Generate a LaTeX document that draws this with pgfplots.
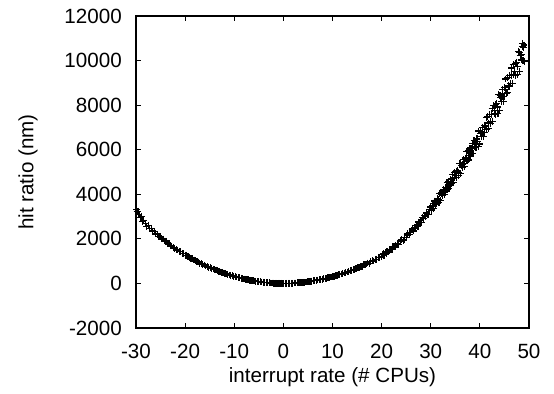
\documentclass[border=0pt]{standalone}
\usepackage{fontspec}
\setmainfont{Liberation Sans}
\usepackage{pgfplots}
\pgfplotsset{compat=1.18}
\begin{document}
\fontsize{10.3}{12.4}\selectfont
\begin{tikzpicture}
\begin{axis}[
  scale only axis, width=196.5pt, height=156pt,
  at={(0,0)}, anchor=south west,
  xmin=-30, xmax=50, ymin=-2000, ymax=12000,
  xtick={-30,-20,...,50}, ytick={-2000,0,...,12000},
  scaled ticks=false,
  /pgf/number format/assume math mode=true,
  /pgf/number format/1000 sep={},
  tick align=inside, major tick length=2.5pt,
  axis line style={line width=0.6pt}, every tick/.style={line width=0.5pt, black},
  yticklabel style={xshift=-3.5pt},
  xticklabel style={yshift=-4.5pt},
  xlabel={interrupt rate (\# CPUs)},
  ylabel={hit ratio (nm)},
  xlabel style={at={([yshift=-24.5pt]axis description cs:0.5,0)}, anchor=center},
  ylabel style={at={([xshift=-54pt]axis description cs:0,0.5)}, anchor=center},
]
\addplot[only marks, mark=+, mark size=1.7pt, mark options={line width=0.6pt}, black] table {
x y
-29.9 3330
-29.8 3210
-29.6 3240
-29.4 3080
-29.1 2950
-28.9 3010
-28.7 2780
-28.4 2830
-28.1 2700
-27.8 2560
-27.5 2610
-27.2 2450
-26.9 2470
-26.6 2350
-26.3 2330
-26.0 2220
-25.7 2200
-25.4 2100
-25.1 2090
-24.8 2010
-24.5 1990
-24.2 1900
-23.9 1890
-23.6 1800
-23.3 1780
-23.0 1690
-22.7 1680
-22.4 1600
-22.1 1580
-21.8 1520
-21.5 1500
-21.2 1430
-20.9 1420
-20.6 1350
-20.3 1340
-20.0 1270
-19.7 1260
-19.4 1200
-19.1 1180
-18.8 1120
-18.5 1110
-18.2 1050
-17.9 1030
-17.6 980
-17.3 965
-17.0 905
-16.7 895
-16.4 845
-16.1 830
-15.8 785
-15.5 770
-15.2 725
-14.9 710
-14.6 670
-14.3 650
-14.0 615
-13.7 600
-13.4 565
-13.1 545
-12.8 515
-12.5 500
-12.2 468
-11.9 452
-11.6 425
-11.3 405
-11.0 382
-10.7 365
-10.4 340
-10.1 325
-9.8 302
-9.5 285
-9.2 267
-8.9 250
-8.6 233
-8.3 218
-8.0 202
-7.7 188
-7.4 173
-7.1 160
-6.8 146
-6.5 134
-6.2 121
-5.9 110
-5.6 99
-5.3 89
-5.0 79
-4.7 70
-4.4 61
-4.1 53
-3.8 46
-3.5 39
-3.2 32
-2.9 27
-2.6 21
-2.3 17
-2.0 13
-1.7 9
-1.4 6
-1.1 4
-0.8 2
-0.5 1
-0.2 0
0.1 0
0.4 0
0.7 1
1.0 3
1.3 5
1.6 8
1.9 11
2.2 15
2.5 19
2.8 24
3.1 29
3.4 35
3.7 42
4.0 49
4.3 56
4.6 65
4.9 73
5.2 82
5.5 92
5.8 103
6.1 113
6.4 125
6.7 137
7.0 150
7.3 162
7.6 177
7.9 190
8.2 205
8.5 221
8.8 236
9.1 253
9.4 269
9.7 287
10.0 305
10.3 324
10.6 342
10.9 362
11.2 383
11.5 403
11.8 425
12.1 447
12.4 469
12.7 492
13.0 515
13.3 540
13.6 564
13.9 589
14.2 615
14.5 641
14.8 668
15.1 710
15.4 701
15.7 760
16.0 765
16.3 834
16.6 832
16.9 871
17.2 920
17.5 906
17.8 976
18.1 1019
18.4 1002
18.7 1078
19.0 1079
19.3 1170
19.6 1160
19.9 1208
20.2 1290
20.35 1326
20.5 1270
20.8 1370
20.95 1352
21.1 1431
21.4 1408
21.55 1520
21.7 1515
22.0 1518
22.15 1528
22.3 1648
22.6 1634
22.75 1711
22.9 1703
23.2 1791
23.35 1746
23.5 1754
23.8 1882
23.95 1948
24.1 1958
24.4 1921
24.55 1950
24.7 2060
25.0 2058
25.15 2173
25.3 2225
25.6 2203
25.75 2190
25.9 2290
26.2 2401
26.35 2462
26.5 2352
26.8 2520
26.95 2477
27.1 2611
27.4 2556
27.55 2752
27.7 2737
28.0 2734
28.15 2743
28.3 2951
28.6 2908
28.75 3038
28.9 3020
29.2 3162
29.35 3080
29.5 3089
29.8 3301
29.95 3409
30.0 3430
30.1 3256
30.2 3316
30.4 3472
30.5 3604
30.6 3352
30.8 3694
30.9 3546
31.0 3613
31.2 3560
31.3 3772
31.4 3802
31.6 3752
31.7 3630
31.8 4045
32.0 3715
32.1 4059
32.2 4011
32.4 3950
32.5 4061
32.6 4215
32.8 3987
32.9 4099
33.0 4298
33.2 4278
33.3 4524
33.4 4211
33.6 4574
33.7 4249
33.8 4410
34.0 4656
34.1 4415
34.2 4493
34.4 4697
34.5 4870
34.6 4527
34.8 4974
34.9 4769
35.0 4851
35.2 4766
35.3 5043
35.4 5076
35.6 4995
35.7 4826
35.8 5371
36.0 4919
36.1 5366
36.2 5294
36.4 5207
36.5 5349
36.6 5547
36.8 5233
36.9 5374
37.0 5627
37.2 5590
37.3 5908
37.4 5494
37.6 5961
37.7 5535
37.8 5743
38.0 6046
38.1 5727
38.2 5820
38.4 6070
38.5 6287
38.6 5837
38.8 6396
38.9 6123
39.0 6221
39.2 6103
39.3 6455
39.4 6491
39.6 6373
39.7 6150
39.8 6837
40.0 6256
40.1 6820
40.2 6725
40.4 6597
40.5 6770
40.6 7011
40.8 6608
40.9 6783
41.0 7099
41.2 7036
41.3 7428
41.4 6900
41.6 7478
41.7 6940
41.8 7195
42.0 7567
42.1 7165
42.2 7278
42.4 7581
42.5 7848
42.6 7283
42.8 7973
42.9 7629
43.0 7747
43.2 7595
43.3 8028
43.4 8070
43.6 7914
43.7 7633
43.8 8480
44.0 7752
44.1 8448
44.2 8327
44.4 8171
44.5 8385
44.6 8685
44.8 8178
44.9 8391
45.0 8778
45.2 8693
45.3 9174
45.4 8518
45.6 9224
45.7 8556
45.8 8867
46.0 9328
46.1 8833
46.2 8973
46.4 9339
46.5 9664
46.6 8964
46.8 9807
46.9 9380
47.0 9521
47.2 9336
47.3 9870
47.4 9923
47.6 9724
47.7 9376
47.8 10413
48.0 9522
48.1 10378
48.2 10231
48.4 10021
48.5 10274
48.6 10632
48.7 10773
48.8 10003
48.9 10600
49.0 10700
49.1 9950
};
\end{axis}
\pgfresetboundingbox
\path[use as bounding box] (-68pt,-33pt) rectangle (209pt,164pt);
\end{tikzpicture}
\end{document}
